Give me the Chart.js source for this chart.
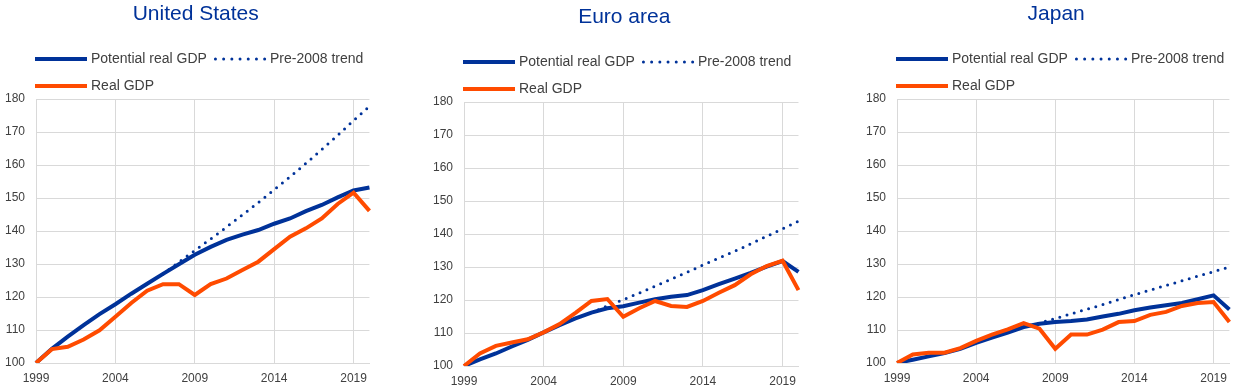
<!DOCTYPE html>
<html>
<head>
<meta charset="utf-8">
<script src="https://cdn.jsdelivr.net/npm/chart.js@4.4.1/dist/chart.umd.min.js"></script>
<style>
  html, body { margin: 0; padding: 0; background: #fff; }
  body { width: 1240px; height: 388px; position: relative; overflow: hidden; }
  .panel { position: absolute; height: 388px; }
</style>
</head>
<body>
<div class="panel" style="left:0px;top:0px;width:375px"><canvas id="us"></canvas></div>
<div class="panel" style="left:428px;top:3px;width:376px"><canvas id="ea"></canvas></div>
<div class="panel" style="left:861px;top:0px;width:374px"><canvas id="jp"></canvas></div>
<script>
// years on the x axis
const years = ['1999','2000','2001','2002','2003','2004','2005','2006','2007','2008','2009',
  '2010','2011','2012','2013','2014','2015','2016','2017','2018','2019','2020'];

// United States
const usPotential = [100, 104.3, 108, 111.5, 114.8, 117.8, 121, 124, 127, 129.9, 132.8,
  135.2, 137.3, 138.9, 140.3, 142.2, 143.8, 146, 147.9, 150.2, 152.3, 153.2];
const usTrend = [null, null, null, null, null, null, null, null, 127, 130.6, 134.1,
  137.6, 141.2, 144.9, 148.6, 152.5, 156.4, 160.5, 164.7, 169.0, 173.5, 177.8];
const usReal = [100, 104.2, 104.9, 107.1, 109.9, 114, 118.2, 121.9, 123.9, 123.9, 120.6,
  123.9, 125.6, 128.2, 130.7, 134.5, 138.3, 140.8, 143.8, 148.2, 151.6, 146.1];

// Euro area
const eaPotential = [100, 102, 103.8, 105.9, 107.9, 110.2, 112.4, 114.4, 116.2, 117.5, 118.1,
  119.2, 120.2, 121, 121.5, 123, 124.8, 126.5, 128.2, 130.1, 131.8, 128.5];
const eaTrend = [null, null, null, null, null, null, null, null, 116.2, 118.2, 120.1,
  122.1, 124.2, 126.3, 128.4, 130.6, 132.7, 134.8, 137.0, 139.3, 141.6, 143.9];
const eaReal = [100, 103.8, 106.1, 107.1, 108.1, 110.2, 112.7, 116.1, 119.7, 120.3, 114.9,
  117.5, 119.7, 118.2, 117.9, 119.7, 122.2, 124.5, 127.8, 130.3, 131.9, 123];

// Japan
const jpPotential = [100, 101, 102, 103, 104.3, 106.1, 107.7, 109.2, 110.9, 111.9, 112.4,
  112.7, 113.2, 114.1, 114.9, 116, 116.8, 117.5, 118.2, 119.3, 120.5, 116.2];
const jpTrend = [null, null, null, null, null, null, null, null, 110.9, 112.1, 113.5,
  114.9, 116.3, 117.7, 119.2, 120.7, 122.1, 123.5, 124.9, 126.3, 127.7, 129.1];
const jpReal = [100, 102.6, 103.1, 103.1, 104.5, 106.7, 108.6, 110.2, 112.1, 110.4, 104.3,
  108.6, 108.6, 110.1, 112.4, 112.7, 114.6, 115.5, 117.3, 118.2, 118.5, 112.4];

const seriesNames = ['Potential real GDP', 'Pre-2008 trend', 'Real GDP'];

const BLUE = '#003299';
const ORANGE = '#ff4b00';
const GRID = '#d9d9d9';
const TEXT = '#404040';
const FONT = '"Liberation Sans", Arial, sans-serif';

// title + legend drawn above the plot (third item goes on a second row)
const headerPlugin = {
  id: 'header',
  afterDraw(chart, args, opts) {
    const ctx = chart.ctx;
    const area = chart.chartArea;
    ctx.save();
    ctx.font = '21px ' + FONT;
    ctx.fillStyle = BLUE;
    ctx.textAlign = 'center';
    ctx.textBaseline = 'alphabetic';
    ctx.fillText(opts.title, (area.left + area.right) / 2 - 7, 20);

    ctx.font = '14px ' + FONT;
    ctx.textAlign = 'left';
    ctx.textBaseline = 'middle';
    let x = area.left - 1;
    let y = 59;
    chart.data.datasets.forEach((ds, i) => {
      if (i === 2) {
        x = area.left - 1;
        y += 27;
      }
      const w = ctx.measureText(ds.label).width;
      ctx.beginPath();
      ctx.strokeStyle = ds.borderColor;
      if (ds.borderDash) {
        ctx.lineWidth = 3;
        ctx.lineCap = 'round';
        ctx.setLineDash([0, 8.2]);
        ctx.moveTo(x + 1.5, y);
        ctx.lineTo(x + 51, y);
      } else {
        ctx.lineWidth = 4;
        ctx.lineCap = 'butt';
        ctx.setLineDash([]);
        ctx.moveTo(x, y);
        ctx.lineTo(x + 52, y);
      }
      ctx.stroke();
      ctx.setLineDash([]);
      ctx.fillStyle = TEXT;
      ctx.fillText(ds.label, x + 56, y);
      x += 56 + w + 7;
    });
    ctx.restore();
  }
};

function makeChart(id, title, potential, trend, real) {
  return new Chart(document.getElementById(id), {
    type: 'line',
    data: {
      labels: years,
      datasets: [
        { label: seriesNames[0], data: potential, borderColor: BLUE, borderWidth: 4,
          pointRadius: 0, tension: 0, order: 1 },
        { label: seriesNames[1], data: trend, borderColor: BLUE, borderWidth: 3,
          borderDash: [0, 7.5], borderCapStyle: 'round', pointRadius: 0, tension: 0, order: 2 },
        { label: seriesNames[2], data: real, borderColor: ORANGE, borderWidth: 4,
          pointRadius: 0, tension: 0, order: 0 }
      ]
    },
    options: {
      responsive: true,
      maintainAspectRatio: false,
      animation: false,
      layout: { padding: { top: 99, left: 3, right: 2, bottom: 3 } },
      plugins: {
        legend: { display: false },
        tooltip: { enabled: false },
        header: { title: title }
      },
      scales: {
        x: {
          type: 'category',
          afterBuildTicks: (scale) => {
            scale.ticks = scale.ticks.filter(t => t.value % 5 === 0);
          },
          afterFit: (scale) => { scale.height = 22; },
          grid: { color: GRID, lineWidth: 1, drawTicks: false },
          border: { color: GRID },
          ticks: { autoSkip: false, maxRotation: 0, padding: 8, color: TEXT,
            font: { family: FONT, size: 12 } }
        },
        y: {
          min: 100,
          max: 180,
          afterFit: (scale) => { scale.width = 33; },
          grid: { color: GRID, lineWidth: 1, drawTicks: false },
          border: { color: GRID },
          ticks: { stepSize: 10, padding: 11, color: TEXT,
            font: { family: FONT, size: 12 } }
        }
      }
    },
    plugins: [headerPlugin]
  });
}

makeChart('us', 'United States', usPotential, usTrend, usReal);
makeChart('ea', 'Euro area', eaPotential, eaTrend, eaReal);
makeChart('jp', 'Japan', jpPotential, jpTrend, jpReal);
</script>
</body>
</html>
